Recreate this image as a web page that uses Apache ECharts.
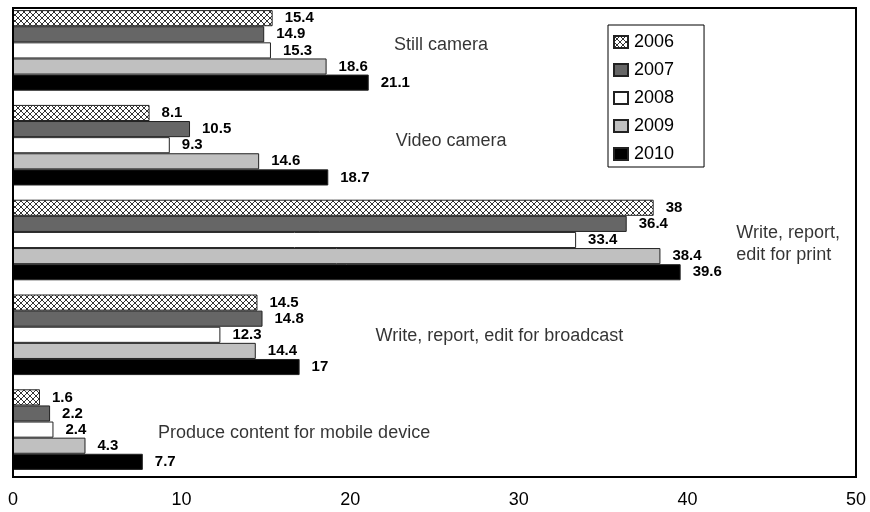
<!DOCTYPE html>
<html>
<head>
<meta charset="utf-8">
<script src="https://cdn.jsdelivr.net/npm/echarts@6/dist/echarts.min.js"></script>
<style>html,body{margin:0;padding:0;background:#fff}#c{width:870px;height:512px}</style>
</head>
<body>
<div id="c"></div>
<script>
// ---- data ----
var categories = ['Still camera', 'Video camera', 'Write, report, edit for print', 'Write, report, edit for broadcast', 'Produce content for mobile device'];
var categoryNotes = ['Still camera', 'Video camera', 'Write, report,\nedit for print', 'Write, report, edit for broadcast', 'Produce content for mobile device'];
var years = ['2006', '2007', '2008', '2009', '2010'];
var v2006 = [15.4, 8.1, 38, 14.5, 1.6];
var v2007 = [14.9, 10.5, 36.4, 14.8, 2.2];
var v2008 = [15.3, 9.3, 33.4, 12.3, 2.4];
var v2009 = [18.6, 14.6, 38.4, 14.4, 4.3];
var v2010 = [21.1, 18.7, 39.6, 17, 7.7];
var xTicks = [0, 10, 20, 30, 40, 50];

// ---- layout (not data) ----
var noteAnchorX = [22.6, 22.7, 42.9, 21.5, 8.6];
var noteOffsetY = [-5, -4, 4, 1, 3];

var FONT = '"Liberation Sans", Arial, sans-serif';

function hatch() {
  var c = document.createElement('canvas');
  c.width = 6; c.height = 6;
  var g = c.getContext('2d');
  g.fillStyle = '#fff'; g.fillRect(0, 0, 6, 6);
  g.strokeStyle = '#000'; g.lineWidth = 0.8;
  g.beginPath();
  g.moveTo(0, 0); g.lineTo(6, 6);
  g.moveTo(6, 0); g.lineTo(0, 6);
  g.stroke();
  return c;
}

var fills = [{image: hatch(), repeat: 'repeat'}, '#666666', '#ffffff', '#c0c0c0', '#000000'];
var values = [v2006, v2007, v2008, v2009, v2010];

var series = years.map(function (y, i) {
  return {
    name: y,
    type: 'bar',
    data: values[i],
    barGap: '0%',
    barCategoryGap: '15%',
    itemStyle: {color: fills[i], borderColor: '#222', borderWidth: 1},
    label: {
      show: true, position: 'right', distance: 12,
      color: '#000', fontFamily: FONT, fontWeight: 'bold', fontSize: 15
    }
  };
});

series.push({
  type: 'scatter',
  name: 'notes',
  silent: true,
  symbolSize: 0,
  data: categories.map(function (c, i) { return [noteAnchorX[i], c]; }),
  label: {
    show: true, position: 'right', distance: 0,
    color: '#000', fontFamily: FONT, fontSize: 18, lineHeight: 22,
    formatter: function (p) { return categoryNotes[p.dataIndex]; }
  },
  labelLayout: function (p) { return {dy: noteOffsetY[p.dataIndex]}; }
});

var chart = echarts.init(document.getElementById('c'), null, {renderer: 'canvas'});
chart.setOption({
  animation: false,
  backgroundColor: '#fff',
  grid: {left: 13, right: 14, top: 3, bottom: 35, containLabel: false},
  xAxis: {
    type: 'value', min: 0, max: 50, interval: 10,
    axisLine: {show: false}, axisTick: {show: false}, splitLine: {show: false},
    axisLabel: {
      margin: 14, color: '#000', fontFamily: FONT, fontSize: 18,
      formatter: function (v) { return xTicks.indexOf(v) >= 0 ? String(v) : ''; }
    }
  },
  yAxis: {
    type: 'category', data: categories, inverse: true,
    axisLine: {show: false}, axisTick: {show: false}, axisLabel: {show: false}
  },
  legend: {
    data: years, orient: 'vertical', left: 608, top: 25,
    padding: [8, 30, 4, 5], itemGap: 10, itemWidth: 14, itemHeight: 12,
    icon: 'rect', borderColor: '#000', borderWidth: 1,
    textStyle: {color: '#000', fontFamily: FONT, fontSize: 18, lineHeight: 18, padding: [0, 0, 0, 1]}
  },
  graphic: [{
    type: 'rect', silent: true, z: 100,
    shape: {x: 13, y: 8, width: 843, height: 469},
    style: {fill: null, stroke: '#000', lineWidth: 2}
  }],
  series: series
});
</script>
</body>
</html>
